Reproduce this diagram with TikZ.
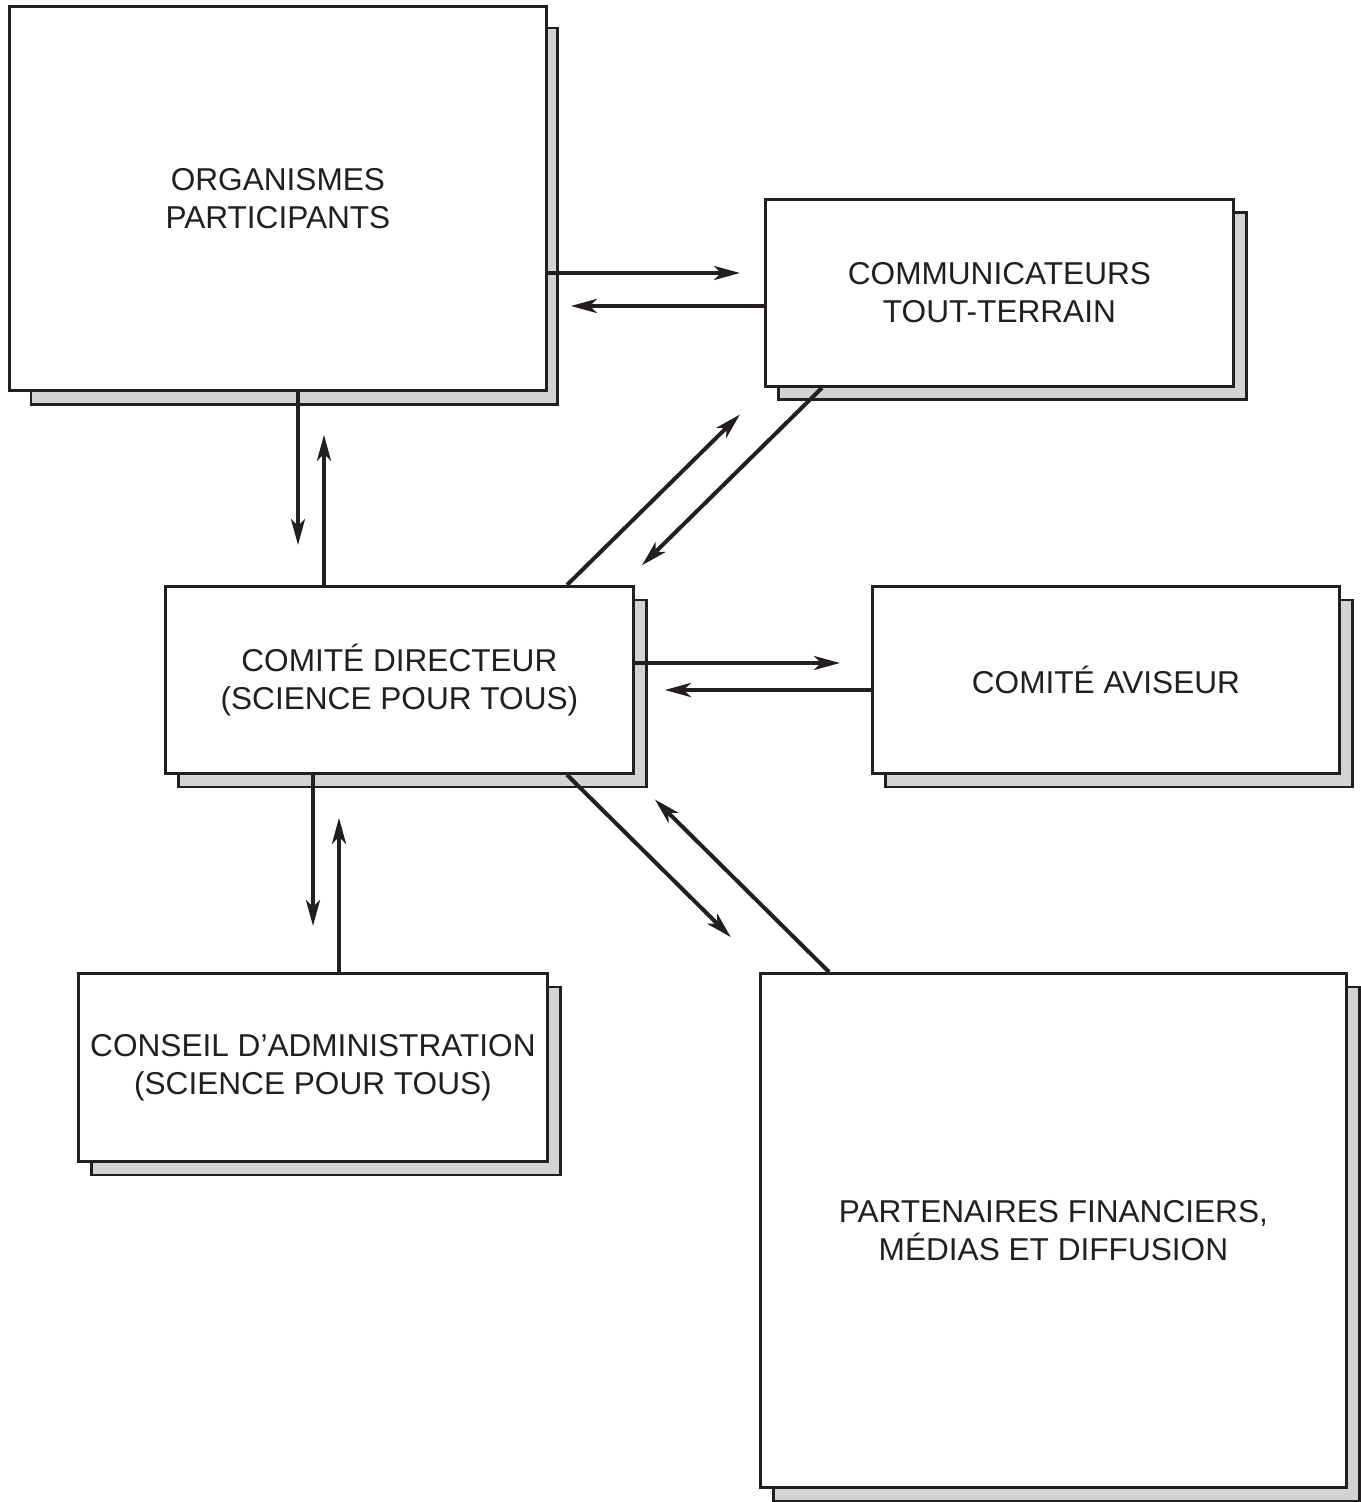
\documentclass[tikz,border=0pt]{standalone}
\usepackage{fontspec}
\setmainfont{Liberation Sans}
\usetikzlibrary{arrows.meta,shadows}
\definecolor{trait}{RGB}{35,31,32}
\definecolor{ombre}{RGB}{210,211,213}

\begin{document}
\begin{tikzpicture}[x=0.5pt, y=-0.5pt,
        ombrage/.style={draw=trait, line width=1.4pt, fill=ombre, shadow xshift=6.5pt, shadow yshift=-6.75pt},
        boite/.style={rectangle, draw=trait, line width=1.4pt, fill=white, anchor=north west,
            inner sep=0pt, align=center, text=trait, font=\fontsize{15.8}{19}\selectfont,
            general shadow={ombrage, #1}},
        boite/.default={},
        fleche/.style={draw=trait, line width=2pt, -{Stealth[length=13pt, width=7pt, inset=3.5pt]}}]
        \useasboundingbox (0,0) rectangle (1360,1502);

        % Nodes
        \node (org) [boite={shadow xshift=8.25pt, shadow yshift=-9pt, shadow scale=0.98}, minimum width=268.5pt, minimum height=192pt] at (8,5) {ORGANISMES\\PARTICIPANTS};
        \node (comm) [boite, minimum width=234pt, minimum height=93.5pt] at (764,198) {COMMUNICATEURS\\TOUT-TERRAIN};
        \node (cd) [boite, minimum width=234pt, minimum height=93.5pt] at (164,585) {COMITÉ DIRECTEUR\\(SCIENCE POUR TOUS)};
        \node (avis) [boite, minimum width=233.5pt, minimum height=93.5pt] at (871,585) {COMITÉ AVISEUR};
        \node (conseil) [boite, minimum width=234.5pt, minimum height=94pt] at (77,972) {CONSEIL D’ADMINISTRATION\\(SCIENCE POUR TOUS)};
        \node (part) [boite, minimum width=293pt, minimum height=257pt] at (759,972) {PARTENAIRES FINANCIERS,\\MÉDIAS ET DIFFUSION};

        % Arrows
        \draw[fleche, shorten >=12pt] (org.east |- 0,273) -- (comm.west |- 0,273);
        \draw[fleche, shorten >=11.5pt] (comm.west |- 0,306) -- (org.east |- 0,306);
        \draw[fleche, shorten >=20pt] (org.south -| 298,0) -- (cd.north -| 298,0);
        \draw[fleche, shorten >=21.5pt] (cd.north -| 324,0) -- (org.south -| 324,0);
        \draw[fleche, shorten >=19pt] (cd.north -| 567,0) -- (comm.south -| 767,0);
        \draw[fleche, shorten >=14pt] (comm.south -| 822,0) -- (cd.north -| 622,0);
        \draw[fleche, shorten >=15.5pt] (cd.east |- 0,663) -- (avis.west |- 0,663);
        \draw[fleche, shorten >=15pt] (avis.west |- 0,690) -- (cd.east |- 0,690);
        \draw[fleche, shorten >=23pt] (cd.south -| 313,0) -- (conseil.north -| 313,0);
        \draw[fleche, shorten >=21.5pt] (conseil.north -| 339,0) -- (cd.south -| 339,0);
        \draw[fleche, shorten >=24.75pt] (cd.south -| 567,0) -- (part.north -| 766,0);
        \draw[fleche, shorten >=17.5pt] (part.north -| 829,0) -- (cd.south -| 630,0);
    \end{tikzpicture}
\end{document}
